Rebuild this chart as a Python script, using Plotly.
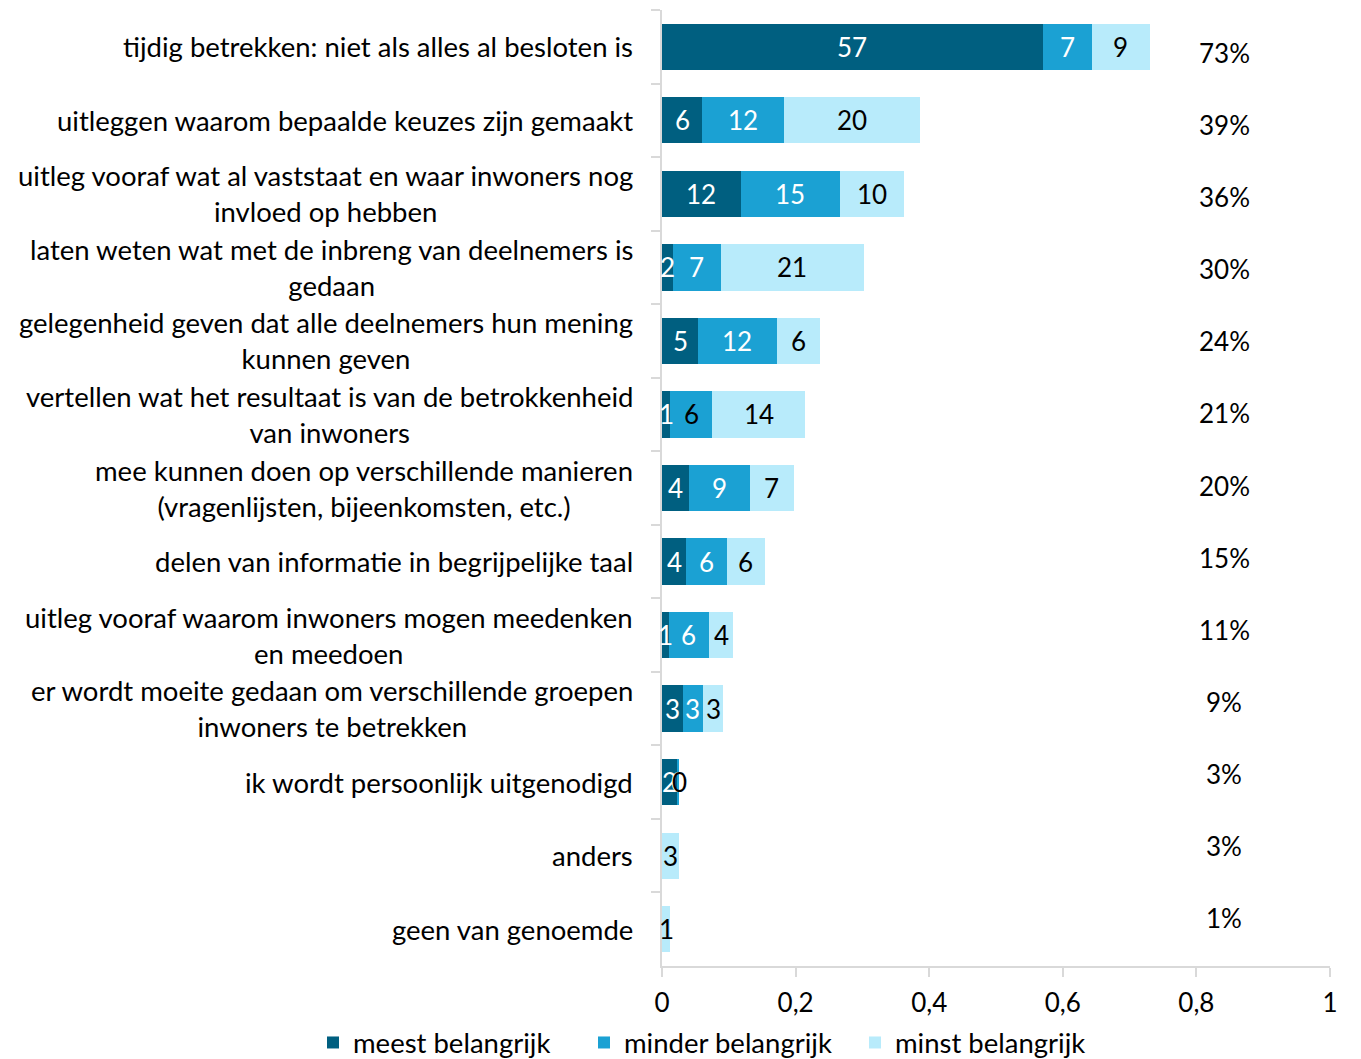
import plotly.graph_objects as go

categories = [
    "tijdig betrekken: niet als alles al besloten is",
    "uitleggen waarom bepaalde keuzes zijn gemaakt",
    "uitleg vooraf wat al vaststaat en waar inwoners nog<br>invloed op hebben",
    "laten weten wat met de inbreng van deelnemers is<br>gedaan",
    "gelegenheid geven dat alle deelnemers hun mening<br>kunnen geven",
    "vertellen wat het resultaat is van de betrokkenheid<br>van inwoners",
    "mee kunnen doen op verschillende manieren<br>(vragenlijsten, bijeenkomsten, etc.)",
    "delen van informatie in begrijpelijke taal",
    "uitleg vooraf waarom inwoners mogen meedenken<br>en meedoen",
    "er wordt moeite gedaan om verschillende groepen<br>inwoners te betrekken",
    "ik wordt persoonlijk uitgenodigd",
    "anders",
    "geen van genoemde",
]

# percentages
meest = [57.0, 6.0, 11.8, 1.6, 5.4, 1.2, 4.0, 3.6, 1.0, 3.1, 2.2, None, None]
minder = [7.3, 12.3, 14.8, 7.2, 11.8, 6.3, 9.1, 6.1, 6.0, 3.0, 0.4, None, None]
minst = [8.7, 20.3, 9.6, 21.4, 6.4, 13.9, 6.6, 5.7, 3.7, 3.1, 0.0, 2.6, 1.2]
totals = ["73%", "39%", "36%", "30%", "24%", "21%", "20%", "15%", "11%", "9%", "3%", "3%", "1%"]
series_names = ["meest belangrijk", "minder belangrijk", "minst belangrijk"]
x_ticks = [0, 0.2, 0.4, 0.6, 0.8, 1]

colors = ["#005F80", "#1BA1D3", "#B8EBFB"]
label_colors = ["white", "white", "black"]
FONT = "Lato"
FS = 26
FS_CAT = 27.5

series = [meest, minder, minst]
fig = go.Figure()
for name, vals, col in zip(series_names, series, colors):
    fig.add_trace(go.Bar(
        y=categories, x=[(v or 0) / 100 for v in vals], name=name, orientation="h",
        marker=dict(color=col, line=dict(width=0)), hoverinfo="skip",
    ))

annotations = []
for i, cat in enumerate(categories):
    start = 0.0
    for s, vals in enumerate(series):
        v = vals[i]
        if v is None:
            continue
        w = v / 100
        col = label_colors[s]
        if s == 1 and i == 5:
            col = "black"
        annotations.append(dict(
            x=start + w / 2, y=cat, xref="x", yref="y", text=str(int(round(v))),
            showarrow=False, font=dict(family=FONT, size=FS, color=col),
            xanchor="center", yanchor="middle",
        ))
        start += w
    # totals
    annotations.append(dict(
        x=0.842, y=cat, xref="x", yref="y", text=totals[i], showarrow=False,
        font=dict(family=FONT, size=FS, color="black"), xanchor="center",
        yanchor="middle", yshift=-6 + 17 * i / 12,
    ))
    # category labels
    annotations.append(dict(
        x=-27 / 668, y=cat, xref="paper", yref="y", text=cat, showarrow=False,
        font=dict(family=FONT, size=FS_CAT, color="black"), xanchor="right",
        yanchor="middle", align="center",
    ))

fig.update_layout(
    barmode="stack",
    bargap=0.37,
    width=1361, height=1059,
    margin=dict(l=662, r=31, t=10, b=93, autoexpand=False),
    plot_bgcolor="white", paper_bgcolor="white",
    separators=",.",
    font=dict(family=FONT, size=FS, color="black"),
    annotations=annotations,
    showlegend=True,
    legend=dict(orientation="h", xref="paper", yref="paper",
                x=(313 - 662) / 668, xanchor="left", y=-0.0545, yanchor="top",
                font=dict(family=FONT, size=FS_CAT), traceorder="normal",
                itemwidth=30, entrywidth=226, entrywidthmode="pixels"),
    xaxis=dict(range=[0, 1], tickvals=x_ticks, showgrid=False, zeroline=False,
               showline=True, linecolor="#D9D9D9", linewidth=1.5,
               ticks="outside", ticklen=9, tickcolor="#D9D9D9", tickwidth=1.5,
               tickfont=dict(family=FONT, size=FS, color="black"),
               ticklabelstandoff=4, automargin=False),
    yaxis=dict(autorange="reversed", showgrid=False, zeroline=False,
               showline=True, linecolor="#D9D9D9", linewidth=1.5,
               ticks="outside", ticklen=9, tickcolor="#D9D9D9", tickwidth=1.5,
               tickson="boundaries", showticklabels=False, automargin=False),
)

fig.write_html("out.html", config={"displayModeBar": False},
               post_script="document.body.style.margin='0';")
